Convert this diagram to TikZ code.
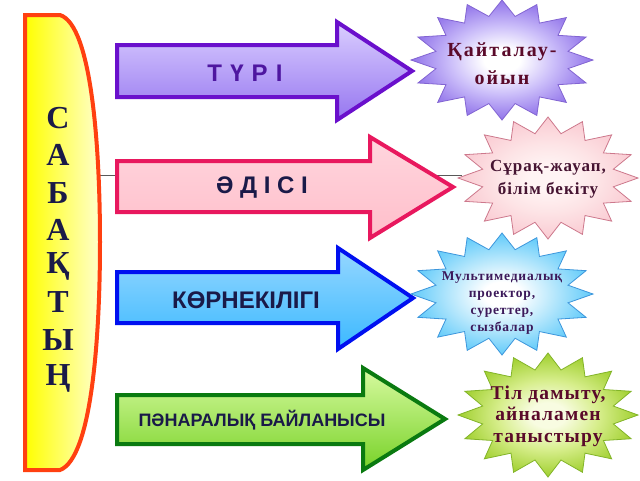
\documentclass[tikz,border=0pt]{standalone}
\usepackage{fontspec}
\setmainfont{Liberation Serif}
\newfontfamily\arsans{Liberation Sans}
\newfontfamily\arsanssp{Liberation Sans}[LetterSpace=6]
\newfontfamily\tmsp{Liberation Serif}[LetterSpace=6]
\newfontfamily\tmspw{Liberation Serif}[LetterSpace=10]
\definecolor{bannerline}{HTML}{FF4010}
\definecolor{navytxt}{HTML}{1A1A48}
\definecolor{maroontxt}{HTML}{5A0A2A}
\definecolor{purpline}{HTML}{6A10CC}
\definecolor{pinkline}{HTML}{E8185E}
\definecolor{blueline}{HTML}{0010F0}
\definecolor{greenline}{HTML}{0A7A10}
\pgfdeclareradialshading[stari,starm,staro]{starsh}{\pgfpoint{0bp}{0bp}}{color(0bp)=(stari); color(5bp)=(stari); color(14bp)=(starm); color(24bp)=(staro); color(50bp)=(staro)}
\newcommand\mystar[4]{plot[variable=\t, samples at={0,...,31}] ({#1+(1-0.26*mod(\t,2))*#3*cos(\t*11.25)},{#2+(1-0.26*mod(\t,2))*#4*sin(\t*11.25)}) -- cycle}
\begin{document}
\begin{tikzpicture}[x=1pt,y=-1pt,
  arrowbox/.style={line width=4pt, line join=miter},
  arrowtext/.style={font=\arsans\bfseries, text=navytxt, inner sep=0pt},
  starbox/.style={line width=0.8pt, shading=starsh},
  startext/.style={align=center, inner sep=0pt},
  bannerletter/.style={font=\bfseries\fontsize{32}{34}\selectfont, text=navytxt, inner sep=0pt}]
\useasboundingbox (0,0) rectangle (640,480);
\fill[white] (0,0) rectangle (640,480);
% thin connector line
\coordinate (lnA) at (100,175);
\coordinate (lnB) at (462,175);
\draw[gray!70!black, line width=0.7pt] (lnA) -- (lnB);
% banner
\draw[line width=4pt, draw=bannerline, left color=yellow, right color={rgb,255:red,255;green,255;blue,205}]
  (25,15) -- (60,15) .. controls (92,25) and (100,150) .. (100,242)
  .. controls (100,335) and (92,458) .. (60,470) -- (25,470) -- cycle;
\foreach \l/\yy [count=\i] in {С/118,А/155,Б/193,А/230,Қ/266,Т/302,Ы/340,Ң/378}
  \node[bannerletter] (b\i) at (58,\yy) {\l};
% arrows
\draw[arrowbox, draw=purpline, top color={rgb,255:red,218;green,206;blue,255}, middle color=white, bottom color={rgb,255:red,150;green,118;blue,240}]
  (117,45) -- (337,45) -- (337,22) -- (412,71) -- (337,120) -- (337,97) -- (117,97) -- cycle;
\draw[arrowbox, draw=pinkline, top color={rgb,255:red,255;green,214;blue,222}, middle color={rgb,255:red,255;green,240;blue,243}, bottom color={rgb,255:red,255;green,190;blue,202}]
  (117,161) -- (370,161) -- (370,137) -- (453,187) -- (370,238) -- (370,212) -- (117,212) -- cycle;
\draw[arrowbox, draw=blueline, top color={rgb,255:red,150;green,215;blue,255}, middle color={rgb,255:red,232;green,246;blue,255}, bottom color={rgb,255:red,60;green,185;blue,255}]
  (117,272) -- (338,272) -- (338,248) -- (413,298) -- (338,349) -- (338,323) -- (117,323) -- cycle;
\draw[arrowbox, draw=greenline, top color={rgb,255:red,215;green,250;blue,160}, middle color={rgb,255:red,168;green,236;blue,88}, bottom color={rgb,255:red,120;green,210;blue,40}]
  (117,395) -- (363,395) -- (363,368) -- (445,419) -- (363,470) -- (363,444) -- (117,444) -- cycle;
\node[arrowtext, font=\arsanssp\bfseries\fontsize{24}{28}\selectfont, text={rgb,255:red,78;green,22;blue,160}] (t1) at (245,73) {Т Ү Р І};
\node[arrowtext, font=\arsans\bfseries\fontsize{24}{28}\selectfont] (t2) at (262,188) {Ә Д І С І};
\node[arrowtext, font=\arsans\bfseries\fontsize{24}{28}\selectfont] (t3) at (246,300) {КӨРНЕКІЛІГІ};
\node[arrowtext, font=\arsans\bfseries\fontsize{18}{22}\selectfont] (t4) at (262,420) {ПӘНАРАЛЫҚ БАЙЛАНЫСЫ};
% stars
\begin{scope}
\colorlet{stari}{white}\colorlet{starm}{rgb,255:red,205;green,192;blue,250}\colorlet{staro}{rgb,255:red,150;green,122;blue,235}
\draw[starbox, draw={rgb,255:red,130;green,100;blue,210}] \mystar{502}{60}{91}{60};
\end{scope}
\begin{scope}
\colorlet{stari}{rgb,255:red,255;green,244;blue,244}\colorlet{starm}{rgb,255:red,253;green,228;blue,230}\colorlet{staro}{rgb,255:red,250;green,205;blue,212}
\draw[starbox, draw={rgb,255:red,205;green,120;blue,140}] \mystar{548}{178}{90}{61};
\end{scope}
\begin{scope}
\colorlet{stari}{white}\colorlet{starm}{rgb,255:red,185;green,232;blue,252}\colorlet{staro}{rgb,255:red,105;green,205;blue,250}
\draw[starbox, draw={rgb,255:red,60;green,150;blue,220}] \mystar{502}{294}{91}{61};
\end{scope}
\begin{scope}
\colorlet{stari}{rgb,255:red,248;green,252;blue,225}\colorlet{starm}{rgb,255:red,215;green,238;blue,140}\colorlet{staro}{rgb,255:red,165;green,210;blue,55}
\draw[starbox, draw={rgb,255:red,130;green,180;blue,40}] \mystar{548}{415}{90}{62};
\end{scope}
\node[startext, font=\tmspw\bfseries\fontsize{20}{28}\selectfont, text=maroontxt] (s1) at (502,64) {Қайталау-\\ойын};
\node[startext, font=\tmsp\bfseries\fontsize{17}{23}\selectfont, text={rgb,255:red,70;green,20;blue,50}] (s2) at (548,179) {Сұрақ-жауап,\\білім бекіту};
\node[startext, font=\tmsp\bfseries\fontsize{13.5}{17}\selectfont, text={rgb,255:red,60;green,25;blue,90}] (s3) at (502,303) {Мультимедиалық\\проектор,\\суреттер,\\сызбалар};
\node[startext, font=\tmsp\bfseries\fontsize{19.5}{21.5}\selectfont, text=maroontxt] (s4) at (548,416) {Тіл дамыту,\\айналамен\\таныстыру};
\end{tikzpicture}
\end{document}
